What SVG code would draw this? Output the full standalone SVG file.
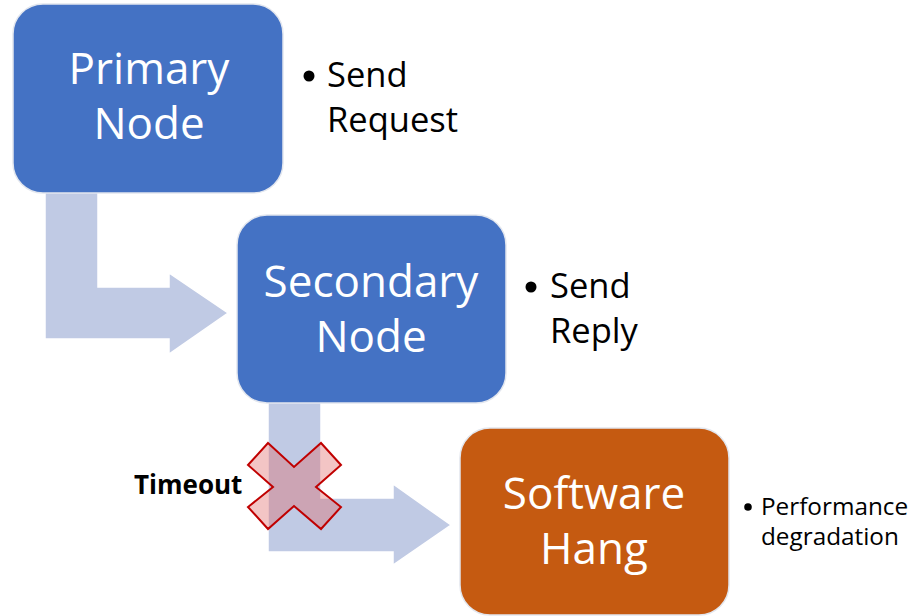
<svg xmlns="http://www.w3.org/2000/svg" width="924" height="616" viewBox="0 0 924 616">
  <style>
    .box { stroke: #e2e6ee; stroke-width: 1.5; }
    .blue { fill: #4472C4; }
    .orange { fill: #C55A11; }
    .flow { fill: #C0CAE4; stroke: #ffffff; stroke-width: 1.5; stroke-linejoin: miter; }
    .label { font-family: "Open Sans", "Liberation Sans", sans-serif; font-size: 44px; fill: #ffffff; text-anchor: middle; }
    .note { font-family: "Open Sans", "Liberation Sans", sans-serif; font-size: 34.5px; fill: #000000; }
    .note-sm { font-family: "Open Sans", "Liberation Sans", sans-serif; font-size: 24.3px; fill: #000000; }
    .cross { fill: #E06666; fill-opacity: 0.38; stroke: #C00000; stroke-width: 2; stroke-linejoin: miter; }
  </style>

  <!-- bent flow arrows between the stages -->
  <g id="connectors">
    <polygon class="flow" points="45,190 98,190 98,287 169,287 169,273 228,313 169,354 169,339 45,339"/>
    <polygon class="flow" points="268,400 321,400 321,498 393,498 393,484 451,525 393,565 393,552 268,552"/>
  </g>

  <g id="primary-node">
    <rect class="box blue" x="13" y="4" width="270" height="189" rx="30"/>
    <text class="label" x="149" y="84">Primary</text>
    <text class="label" x="149" y="139">Node</text>
  </g>

  <g id="primary-note">
    <circle cx="309" cy="76" r="5.5" fill="#000"/>
    <text class="note" x="327" y="87">Send</text>
    <text class="note" x="327" y="132">Request</text>
  </g>

  <g id="secondary-node">
    <rect class="box blue" x="237" y="215" width="269" height="188" rx="30"/>
    <text class="label" x="371" y="297">Secondary</text>
    <text class="label" x="371" y="352">Node</text>
  </g>

  <g id="secondary-note">
    <circle cx="531" cy="287" r="5.5" fill="#000"/>
    <text class="note" x="550" y="298">Send</text>
    <text class="note" x="550" y="343">Reply</text>
  </g>

  <g id="software-hang">
    <rect class="box orange" x="460" y="428" width="269" height="187" rx="30"/>
    <text class="label" x="594" y="509">Software</text>
    <text class="label" x="594" y="564">Hang</text>
  </g>

  <g id="hang-note">
    <circle cx="748" cy="507" r="3.8" fill="#000"/>
    <text class="note-sm" x="761" y="515">Performance</text>
    <text class="note-sm" x="761" y="545">degradation</text>
  </g>

  <g id="timeout">
    <polygon class="cross" points="268,443 294,467 321,443 341,465 316,487 341,507 321,529 294,506 268,529 248,507 273,487 248,465"/>
    <text x="134" y="494" font-family="'Open Sans', 'Liberation Sans', sans-serif" font-size="26" font-weight="bold" fill="#000">Timeout</text>
  </g>
</svg>
